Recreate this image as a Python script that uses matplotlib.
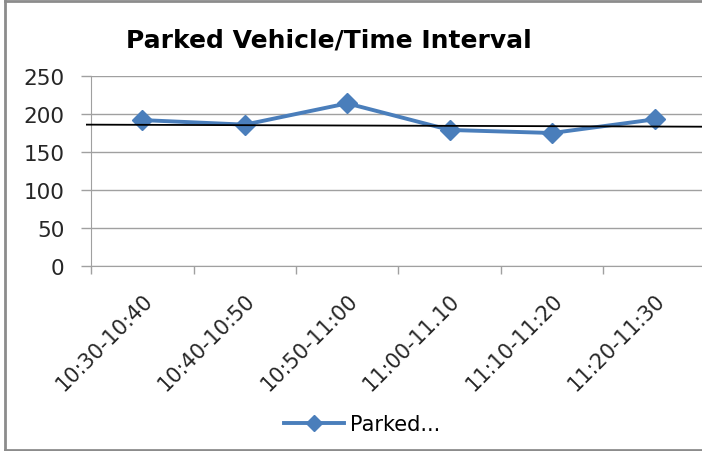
import matplotlib
matplotlib.use("Agg")
import matplotlib.pyplot as plt
from matplotlib.lines import Line2D
import matplotlib.transforms as mtransforms

categories = ["10:30-10:40", "10:40-10:50", "10:50-11:00", "11:00-11.10", "11:10-11:20", "11:20-11:30"]
parked = [192, 186, 214, 179, 175, 193]
ref_line_x = [-0.54, 5.46]
ref_line_y = [186, 183.3]
yticks = [0, 50, 100, 150, 200, 250]
title = "Parked Vehicle/Time Interval"
legend_label = "Parked..."

plt.rcParams['font.family'] = ['DejaVu Sans']

W, H = 702, 452
fig = plt.figure(figsize=(W / 100, H / 100), dpi=100)
fig.patch.set_facecolor('white')

# outer border (no right side visible)
border_col = '#8c8c8c'
fig.add_artist(Line2D([5 / W, 5 / W], [1 - 2 / H, 1 - 451 / H], color=border_col, lw=2, transform=fig.transFigure))
fig.add_artist(Line2D([5 / W, 1], [1 - 2 / H, 1 - 2 / H], color=border_col, lw=2, transform=fig.transFigure))
fig.add_artist(Line2D([5 / W, 1], [1 - 451 / H, 1 - 451 / H], color=border_col, lw=2, transform=fig.transFigure))

left, right = 91 / W, 706 / W
bottom, top = 1 - 267 / H, 1 - 77 / H
ax = fig.add_axes([left, bottom, right - left, top - bottom])
ax.set_facecolor('none')

x = list(range(len(categories)))
line, = ax.plot(x, parked, color='#4a7ebb', lw=2.8, marker='D', markersize=10,
                markeredgecolor='#4a7ebb', markerfacecolor='#4a7ebb', zorder=3)

ax.plot(ref_line_x, ref_line_y, color='black', lw=1.3, clip_on=False, zorder=4)

ax.set_xlim(-0.5, len(categories) - 0.5)
ax.set_ylim(0, 250)
ax.set_yticks(yticks)
ax.set_yticklabels([str(v) for v in yticks], fontsize=15.5, color='#262626')
ax.yaxis.grid(True, color='#a0a0a0', lw=1)
ax.set_axisbelow(True)

ax.set_xticks(x)
ax.set_xticklabels(categories, rotation=45, ha='right', rotation_mode='anchor', fontsize=15, color='#262626')
offset = mtransforms.ScaledTranslation(-4 / 100, 0, fig.dpi_scale_trans)
for lab in ax.get_xticklabels():
    lab.set_transform(lab.get_transform() + offset)
ax.set_xticks([i - 0.5 for i in range(len(categories) + 1)], minor=True)
ax.tick_params(axis='x', which='major', length=0, pad=17)
ax.tick_params(axis='x', which='minor', length=6, color='#a0a0a0', width=1, direction='out')
ax.tick_params(axis='y', length=7, color='#a0a0a0', width=1, pad=12)

for s in ['top', 'right']:
    ax.spines[s].set_visible(False)
ax.spines['left'].set_color('#a0a0a0')
ax.spines['bottom'].set_color('#a0a0a0')

fig.text(329 / W, 1 - 41 / H, title, ha='center', va='center', fontsize=18, fontweight='bold', color='black')

fig.legend([line], [legend_label], loc='center', bbox_to_anchor=(362 / W, 1 - 425 / H),
           frameon=False, fontsize=15, handlelength=2.9, handletextpad=0.25, markerscale=0.8)

fig.savefig("out.png", dpi=100, facecolor='white')
